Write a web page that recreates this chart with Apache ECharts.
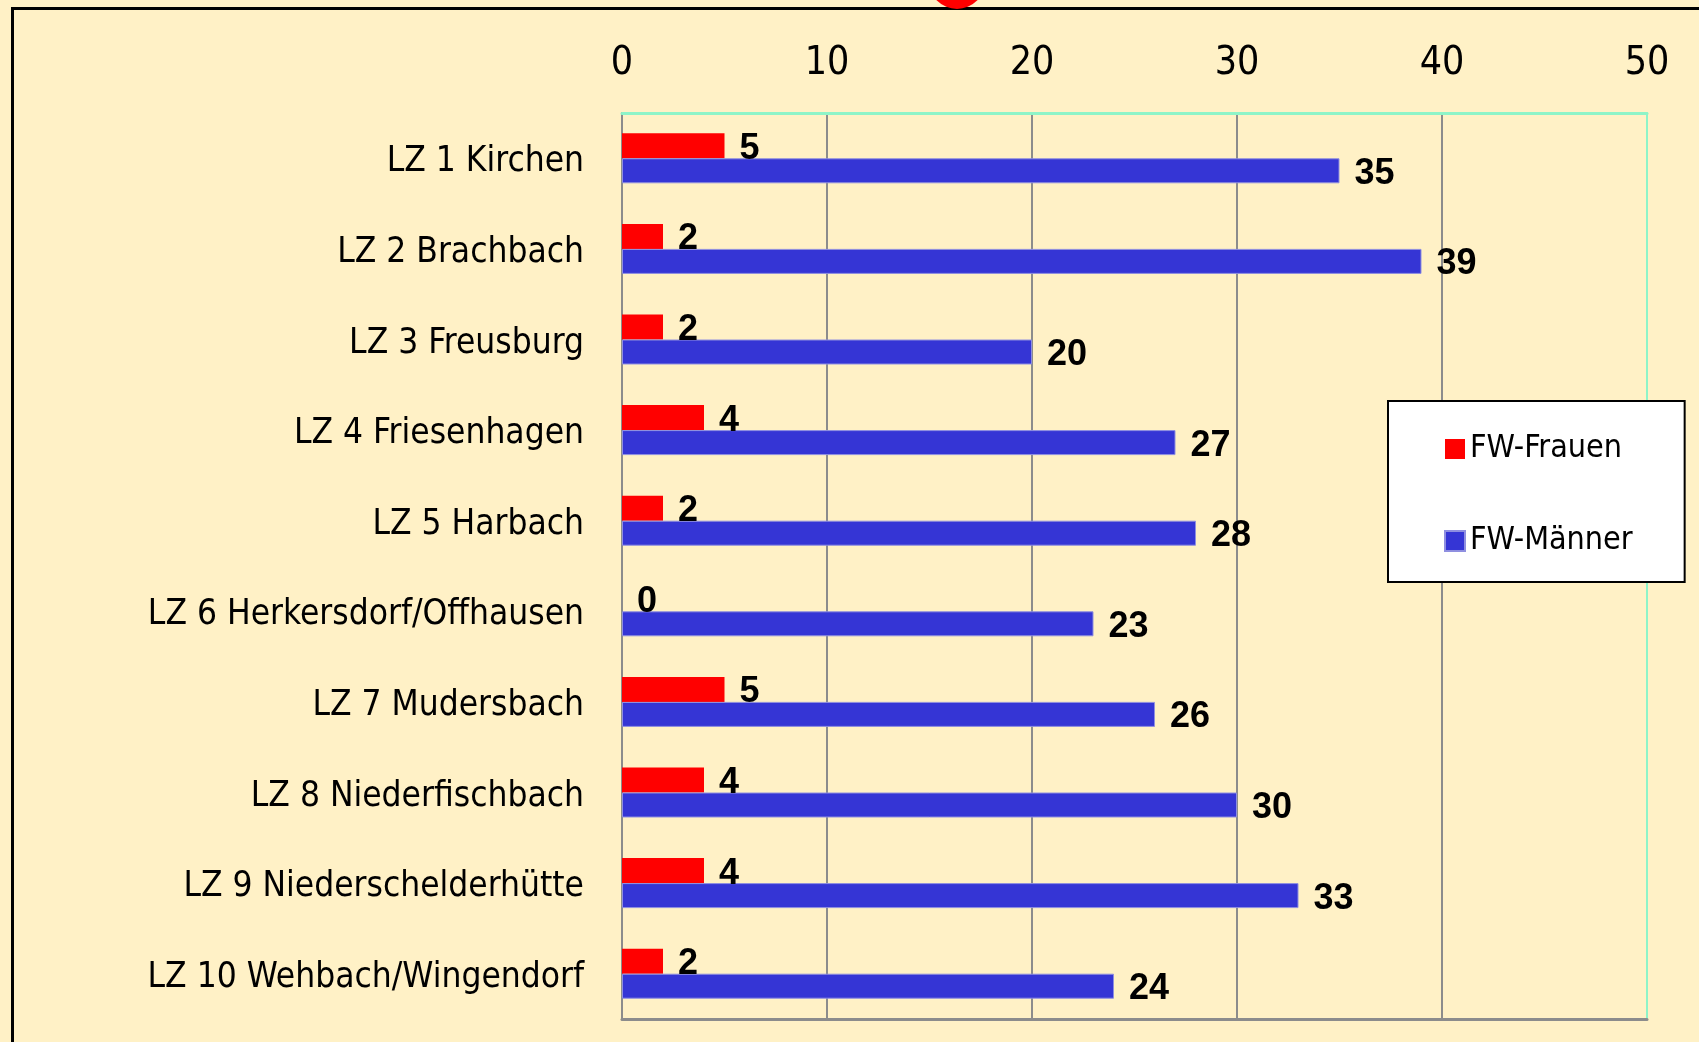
<!DOCTYPE html>
<html>
<head>
<meta charset="utf-8">
<script src="https://cdn.jsdelivr.net/npm/echarts@6/dist/echarts.min.js"></script>
<style>
  html, body { margin: 0; padding: 0; background: #fff1c6; }
  #chart { width: 1699px; height: 1042px; }
</style>
</head>
<body>
<div id="chart"></div>
<script>
const categories = [
  'LZ 1 Kirchen',
  'LZ 2 Brachbach',
  'LZ 3 Freusburg',
  'LZ 4 Friesenhagen',
  'LZ 5 Harbach',
  'LZ 6 Herkersdorf/Offhausen',
  'LZ 7 Mudersbach',
  'LZ 8 Niederfischbach',
  'LZ 9 Niederschelderhütte',
  'LZ 10 Wehbach/Wingendorf',
]
const frauen = [5, 2, 2, 4, 2, 0, 5, 4, 4, 2]
const maenner = [35, 39, 20, 27, 28, 23, 26, 30, 33, 24]
const seriesNames = ['FW-Frauen', 'FW-Männer']

const narrow = '"Liberation Sans Narrow", "DejaVu Sans Condensed", sans-serif'
const grey = '#8c8c8c'
const mint = '#8ef4c8'

const chart = echarts.init(document.getElementById('chart'))

const valueLabel = {
  show: true,
  position: 'right',
  distance: 15,
  offset: [0, 3],
  color: '#000',
  fontSize: 36,
  fontWeight: 'bold',
  fontFamily: '"Liberation Sans", Arial, sans-serif',
}

chart.setOption({
  backgroundColor: '#fff1c6',
  animation: false,
  grid: { left: 622, right: 52, top: 113, bottom: 23 },
  legend: {
    orient: 'vertical',
    left: 1388,
    top: 401,
    width: 294,
    padding: [32, 52, 25, 56],
    itemGap: 60,
    itemWidth: 20,
    itemHeight: 20,
    icon: 'rect',
    backgroundColor: '#fff',
    borderColor: '#000',
    borderWidth: 2,
    borderRadius: 0,
    textStyle: { fontSize: 32, color: '#000', fontFamily: narrow },
    data: seriesNames,
  },
  xAxis: [
    {
      type: 'value',
      position: 'top',
      min: 0,
      max: 50,
      interval: 10,
      axisLine: { show: true, lineStyle: { color: mint, width: 3 } },
      axisTick: { show: false },
      axisLabel: { fontSize: 39, margin: 30, color: '#000', fontFamily: narrow },
      splitLine: { show: true, lineStyle: { color: grey, width: 2 } },
    },
    {
      type: 'value',
      position: 'bottom',
      min: 0,
      max: 50,
      interval: 10,
      axisLine: { show: true, lineStyle: { color: grey, width: 3 } },
      axisTick: { show: false },
      axisLabel: { show: false },
      splitLine: { show: false },
    },
  ],
  yAxis: [
    {
      type: 'category',
      inverse: true,
      data: categories,
      position: 'left',
      axisLine: { show: true, onZero: false, lineStyle: { color: grey, width: 2 } },
      axisTick: { show: false },
      axisLabel: {
        margin: 38,
        formatter: v => `{t|${v}}`,
        rich: {
          t: { fontSize: 35, color: '#000', fontFamily: narrow, padding: [8, 0, 0, 0] },
        },
      },
    },
    {
      type: 'category',
      inverse: true,
      data: categories,
      position: 'right',
      axisLine: { show: true, onZero: false, lineStyle: { color: mint, width: 2 } },
      axisTick: { show: false },
      axisLabel: { show: false },
    },
  ],
  series: [
    {
      name: seriesNames[0],
      type: 'bar',
      xAxisIndex: 0,
      yAxisIndex: 0,
      data: frauen,
      barWidth: 25,
      barGap: '0%',
      itemStyle: { color: '#ff0000' },
      label: valueLabel,
    },
    {
      name: seriesNames[1],
      type: 'bar',
      xAxisIndex: 0,
      yAxisIndex: 0,
      data: maenner,
      barWidth: 25,
      barGap: '0%',
      itemStyle: { color: '#3535d5', borderColor: '#8f8fe0', borderWidth: 1 },
      label: valueLabel,
    },
  ],
  graphic: [
    {
      type: 'rect',
      left: 10,
      top: 6,
      shape: { width: 1720, height: 1060 },
      style: { fill: 'none', stroke: '#000', lineWidth: 3 },
      silent: true,
    },
    {
      type: 'circle',
      shape: { cx: 957, cy: -19, r: 28 },
      style: { fill: '#ff0000' },
      silent: true,
    },
  ],
})

window.addEventListener('resize', () => chart.resize())
</script>
</body>
</html>
